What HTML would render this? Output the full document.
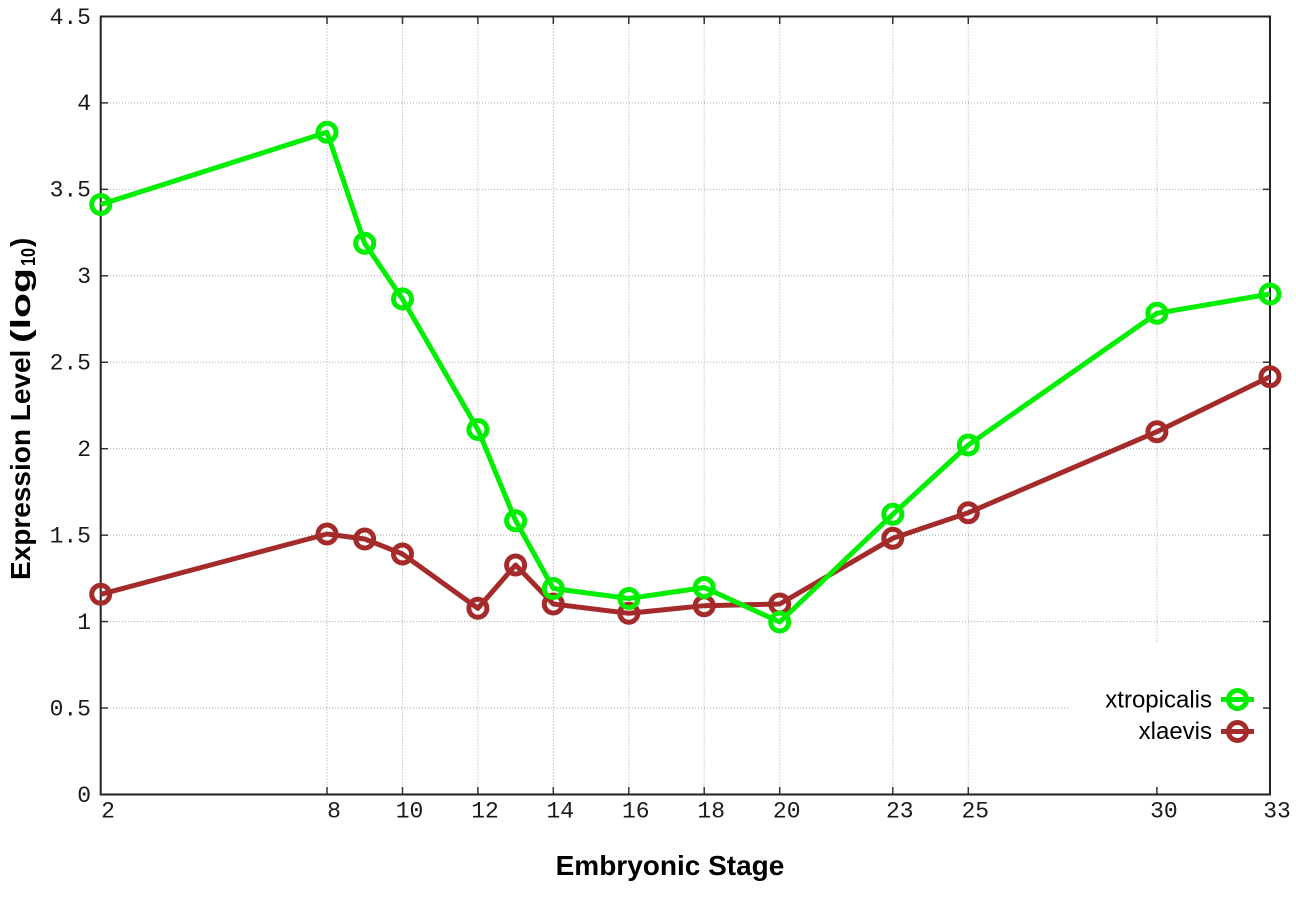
<!DOCTYPE html>
<html>
<head>
<meta charset="utf-8">
<style>
  html, body { margin: 0; padding: 0; background: #ffffff; }
  body { width: 1296px; height: 907px; overflow: hidden; }
  svg { display: block; }
  .tick { font-family: "Liberation Mono", "DejaVu Sans Mono", monospace; font-size: 23px; fill: #1a1a1a; }
  .lbl { font-family: "Liberation Sans", Arial, sans-serif; font-weight: bold; fill: #000; }
  .leg { font-family: "Liberation Sans", Arial, sans-serif; font-size: 24px; fill: #000; }
</style>
</head>
<body>
<svg width="1296" height="907" viewBox="0 0 1296 907" xmlns="http://www.w3.org/2000/svg">
  <rect x="0" y="0" width="1296" height="907" fill="#ffffff"/>

  <!-- horizontal grid -->
  <g stroke="#a8a8a8" stroke-width="1" stroke-dasharray="1,2" fill="none">
    <line x1="101" y1="708.05" x2="1070" y2="708.05"/>
    <line x1="101" y1="621.6" x2="1270" y2="621.6"/>
    <line x1="101" y1="535.15" x2="1270" y2="535.15"/>
    <line x1="101" y1="448.7" x2="1270" y2="448.7"/>
    <line x1="101" y1="362.25" x2="1270" y2="362.25"/>
    <line x1="101" y1="275.8" x2="1270" y2="275.8"/>
    <line x1="101" y1="189.35" x2="1270" y2="189.35"/>
    <line x1="101" y1="102.9" x2="1270" y2="102.9"/>
    <!-- vertical grid -->
    <line x1="327.0" y1="16.5" x2="327.0" y2="794.5"/>
    <line x1="402.5" y1="16.5" x2="402.5" y2="794.5"/>
    <line x1="477.9" y1="16.5" x2="477.9" y2="794.5"/>
    <line x1="553.3" y1="16.5" x2="553.3" y2="794.5"/>
    <line x1="628.8" y1="16.5" x2="628.8" y2="794.5"/>
    <line x1="704.2" y1="16.5" x2="704.2" y2="794.5"/>
    <line x1="779.7" y1="16.5" x2="779.7" y2="794.5"/>
    <line x1="892.8" y1="16.5" x2="892.8" y2="794.5"/>
    <line x1="968.3" y1="16.5" x2="968.3" y2="794.5"/>
    <line x1="1156.9" y1="16.5" x2="1156.9" y2="642"/>
  </g>

  <!-- ticks -->
  <g stroke="#333" stroke-width="1.5">
    <line x1="101" y1="708.05" x2="108" y2="708.05"/><line x1="1263" y1="708.05" x2="1270" y2="708.05"/>
    <line x1="101" y1="621.6" x2="108" y2="621.6"/><line x1="1263" y1="621.6" x2="1270" y2="621.6"/>
    <line x1="101" y1="535.15" x2="108" y2="535.15"/><line x1="1263" y1="535.15" x2="1270" y2="535.15"/>
    <line x1="101" y1="448.7" x2="108" y2="448.7"/><line x1="1263" y1="448.7" x2="1270" y2="448.7"/>
    <line x1="101" y1="362.25" x2="108" y2="362.25"/><line x1="1263" y1="362.25" x2="1270" y2="362.25"/>
    <line x1="101" y1="275.8" x2="108" y2="275.8"/><line x1="1263" y1="275.8" x2="1270" y2="275.8"/>
    <line x1="101" y1="189.35" x2="108" y2="189.35"/><line x1="1263" y1="189.35" x2="1270" y2="189.35"/>
    <line x1="101" y1="102.9" x2="108" y2="102.9"/><line x1="1263" y1="102.9" x2="1270" y2="102.9"/>
    <line x1="327.0" y1="787" x2="327.0" y2="794.5"/><line x1="327.0" y1="16.5" x2="327.0" y2="24"/>
    <line x1="402.5" y1="787" x2="402.5" y2="794.5"/><line x1="402.5" y1="16.5" x2="402.5" y2="24"/>
    <line x1="477.9" y1="787" x2="477.9" y2="794.5"/><line x1="477.9" y1="16.5" x2="477.9" y2="24"/>
    <line x1="553.3" y1="787" x2="553.3" y2="794.5"/><line x1="553.3" y1="16.5" x2="553.3" y2="24"/>
    <line x1="628.8" y1="787" x2="628.8" y2="794.5"/><line x1="628.8" y1="16.5" x2="628.8" y2="24"/>
    <line x1="704.2" y1="787" x2="704.2" y2="794.5"/><line x1="704.2" y1="16.5" x2="704.2" y2="24"/>
    <line x1="779.7" y1="787" x2="779.7" y2="794.5"/><line x1="779.7" y1="16.5" x2="779.7" y2="24"/>
    <line x1="892.8" y1="787" x2="892.8" y2="794.5"/><line x1="892.8" y1="16.5" x2="892.8" y2="24"/>
    <line x1="968.3" y1="787" x2="968.3" y2="794.5"/><line x1="968.3" y1="16.5" x2="968.3" y2="24"/>
    <line x1="1156.9" y1="787" x2="1156.9" y2="794.5"/><line x1="1156.9" y1="16.5" x2="1156.9" y2="24"/>
  </g>

  <!-- border -->
  <rect x="100.7" y="16.5" width="1169.3" height="778" fill="none" stroke="#222" stroke-width="2"/>

  <!-- y tick labels -->
  <g class="tick" text-anchor="end">
    <text x="91" y="802">0</text>
    <text x="91" y="715.5">0.5</text>
    <text x="91" y="629">1</text>
    <text x="91" y="542.5">1.5</text>
    <text x="91" y="456">2</text>
    <text x="91" y="369.5">2.5</text>
    <text x="91" y="283">3</text>
    <text x="91" y="196.5">3.5</text>
    <text x="91" y="110">4</text>
    <text x="91" y="24">4.5</text>
  </g>

  <!-- x tick labels -->
  <g class="tick" text-anchor="middle">
    <text x="108" y="817.5">2</text>
    <text x="334" y="817.5">8</text>
    <text x="409.5" y="817.5">10</text>
    <text x="485" y="817.5">12</text>
    <text x="560.3" y="817.5">14</text>
    <text x="635.8" y="817.5">16</text>
    <text x="711.2" y="817.5">18</text>
    <text x="786.7" y="817.5">20</text>
    <text x="899.8" y="817.5">23</text>
    <text x="975.3" y="817.5">25</text>
    <text x="1163.9" y="817.5">30</text>
    <text x="1277" y="817.5">33</text>
  </g>

  <!-- axis labels -->
  <text class="lbl" x="670" y="875" font-size="28" text-anchor="middle">Embryonic Stage</text>
  <g transform="translate(30,580) rotate(-90)">
    <text class="lbl" x="0" y="0" font-size="28">Expression Level</text>
    <text class="lbl" x="237" y="0" font-size="28" textLength="75" lengthAdjust="spacingAndGlyphs">(log</text>
    <text class="lbl" x="314" y="5" font-size="20" textLength="18" lengthAdjust="spacingAndGlyphs">10</text>
    <text class="lbl" x="333" y="0" font-size="28">)</text>
  </g>

  <!-- xlaevis series -->
  <g stroke="#a52a2a" fill="none" stroke-width="5" stroke-linejoin="round">
    <polyline points="100.7,594.3 327.0,534 364.7,539 402.5,554 477.9,608.3 515.6,565 553.3,604 628.8,613.3 704.2,605.7 779.7,604 892.8,538.3 968.3,512.7 1156.9,431.7 1270,376.7"/>
    <circle cx="100.7" cy="594.3" r="9"/>
    <circle cx="327.0" cy="534" r="9"/>
    <circle cx="364.7" cy="539" r="9"/>
    <circle cx="402.5" cy="554" r="9"/>
    <circle cx="477.9" cy="608.3" r="9"/>
    <circle cx="515.6" cy="565" r="9"/>
    <circle cx="553.3" cy="604" r="9"/>
    <circle cx="628.8" cy="613.3" r="9"/>
    <circle cx="704.2" cy="605.7" r="9"/>
    <circle cx="779.7" cy="604" r="9"/>
    <circle cx="892.8" cy="538.3" r="9"/>
    <circle cx="968.3" cy="512.7" r="9"/>
    <circle cx="1156.9" cy="431.7" r="9"/>
    <circle cx="1270" cy="376.7" r="9"/>
  </g>

  <!-- xtropicalis series -->
  <g stroke="#00ee00" fill="none" stroke-width="5" stroke-linejoin="round">
    <polyline points="100.7,204.5 327.0,132.3 364.7,243.3 402.5,299 477.9,429.5 515.6,520.7 553.3,588.5 628.8,598.5 704.2,587.5 779.7,622 892.8,514.3 968.3,445 1156.9,313.3 1270,294"/>
    <circle cx="100.7" cy="204.5" r="9"/>
    <circle cx="327.0" cy="132.3" r="9"/>
    <circle cx="364.7" cy="243.3" r="9"/>
    <circle cx="402.5" cy="299" r="9"/>
    <circle cx="477.9" cy="429.5" r="9"/>
    <circle cx="515.6" cy="520.7" r="9"/>
    <circle cx="553.3" cy="588.5" r="9"/>
    <circle cx="628.8" cy="598.5" r="9"/>
    <circle cx="704.2" cy="587.5" r="9"/>
    <circle cx="779.7" cy="622" r="9"/>
    <circle cx="892.8" cy="514.3" r="9"/>
    <circle cx="968.3" cy="445" r="9"/>
    <circle cx="1156.9" cy="313.3" r="9"/>
    <circle cx="1270" cy="294" r="9"/>
  </g>

  <!-- legend -->
  <text class="leg" x="1212" y="707.5" text-anchor="end">xtropicalis</text>
  <text class="leg" x="1212" y="739" text-anchor="end">xlaevis</text>
  <g fill="none" stroke-width="5">
    <line x1="1221" y1="699.5" x2="1254" y2="699.5" stroke="#00ee00"/>
    <circle cx="1237.5" cy="699.5" r="9" stroke="#00ee00"/>
    <line x1="1221" y1="731.5" x2="1254" y2="731.5" stroke="#a52a2a"/>
    <circle cx="1237.5" cy="731.5" r="9" stroke="#a52a2a"/>
  </g>
</svg>
</body>
</html>
